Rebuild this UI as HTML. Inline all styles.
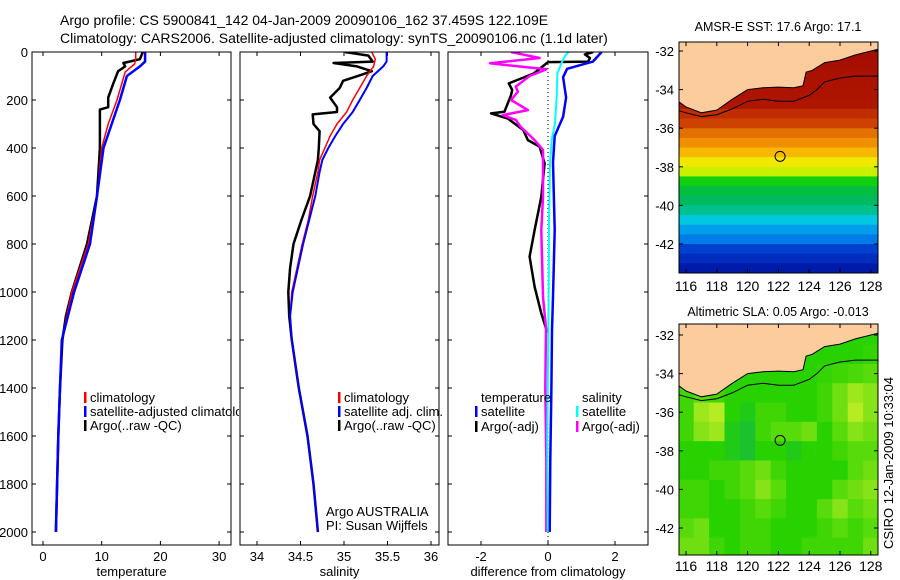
<!DOCTYPE html>
<html><head><meta charset="utf-8"><style>
html,body{margin:0;padding:0;background:#fff}
svg{display:block}
text{font-family:"Liberation Sans",sans-serif;fill:#000}
</style></head><body>
<svg id="fig" width="900" height="580" viewBox="0 0 900 580" xmlns="http://www.w3.org/2000/svg">
<text x="60" y="25" font-size="14">Argo profile: CS 5900841_142 04-Jan-2009 20090106_162 37.459S 122.109E</text>
<text x="60" y="43" font-size="14">Climatology: CARS2006. Satellite-adjusted climatology: synTS_20090106.nc (1.1d later)</text>
<g id="g"></g>
</svg>
<script>
// ---------- data ----------
const depthTicks=[0,200,400,600,800,1000,1200,1400,1600,1800,2000];
const tempTicks=[0,10,20,30];
const salTicks=[34,34.5,35,35.5,36];
const diffTicks=[-2,0,2];
const latTicks=[-32,-34,-36,-38,-40,-42];
const lonTicks=[116,118,120,122,124,126,128];

const tClimDepth=[0,30,50,83,200,300,400,600,800,1000,1200,1400,1600,1800,2000];
const tClimVal=[15.8,15.8,15.6,14,12.6,11.1,10,9.2,7.7,4.9,3.2,2.9,2.6,2.4,2.2];
const tSatDepth=[0,40,60,100,200,300,400,600,800,1000,1200,1400,1600,1800,2000];
const tSatVal=[17.4,17.4,16.5,14.3,13.1,11.7,10.3,9.2,8,5.3,3.2,2.9,2.6,2.4,2.2];
const tArgoDepth=[0,30,46,60,80,130,190,230,240,300,400,600,800,1000,1100,1200,1400,1600,1800,2000];
const tArgoVal=[17,16.5,13.7,14,12.8,12,11.1,11.1,9.7,9.7,9.7,9.2,7.5,4.9,3.9,3.3,2.9,2.6,2.4,2.2];

const sClimDepth=[0,30,60,100,150,200,250,300,350,400,450,500,600,700,800,900,1000,1100,1200,1400,1600,1800,2000];
const sClimVal=[35.32,35.36,35.34,35.26,35.18,35.1,35.03,34.92,34.84,34.78,34.72,34.7,34.64,34.59,34.52,34.46,34.4,34.38,34.4,34.48,34.58,34.65,34.7];
const sSatDepth=[0,40,60,100,150,200,250,300,350,400,450,500,600,800,1000,1100,1200,1400,1600,1800,2000];
const sSatVal=[35.49,35.49,35.45,35.33,35.26,35.18,35.1,34.99,34.9,34.82,34.75,34.72,34.67,34.53,34.41,34.38,34.4,34.48,34.58,34.65,34.7];
const sArgoDepth=[0,15,40,46,60,80,95,120,150,190,230,250,260,300,330,400,450,600,700,800,900,1000,1100,1200,1400,1600,1800,2000];
const sArgoVal=[35.01,35.28,35.33,34.88,35.15,35.32,35.2,34.99,34.95,34.84,34.92,34.92,34.64,34.65,34.72,34.71,34.7,34.61,34.51,34.42,34.38,34.36,34.37,34.4,34.48,34.58,34.65,34.7];

const dTSatDepth=[0,40,70,105,190,270,350,460,740,1020,1160,1400,1700,2000];
const dTSatVal=[1.6,1.34,0.57,0.45,0.54,0.45,0.2,0.15,0.2,0.15,0.12,0.1,0.07,0.05];
const dTArgoDepth=[0,10,25,40,42,89,131,158,179,249,256,277,325,367,394,464,603,742,853,978,1089,1151,1170];
const dTArgoVal=[1.35,1.1,1.25,1.2,0,-0.42,-1.17,-1.07,-1.1,-1.3,-1.7,-1.2,-0.74,-0.6,-0.25,-0.1,-0.2,-0.4,-0.55,-0.4,-0.2,-0.06,0];
const dSSatDepth=[0,18,47,89,186,297,367,464,700,1000,1300,1600,2000];
const dSSatVal=[0.61,0.5,0.4,0.28,0.26,0.21,0.11,0.06,0.03,0.02,0.0,-0.02,-0.01];
const dSArgoDepth=[0,25,47,72,100,144,165,200,242,263,283,311,367,408,603,742,1019,1151,1400,1700,2000];
const dSArgoVal=[-1.1,-0.25,-1.73,-0.05,-0.55,-0.96,-0.9,-1.1,-0.6,-1.35,-0.96,-0.82,-0.4,-0.15,-0.15,-0.2,-0.15,-0.06,-0.08,-0.05,-0.05];

// SST per 0.5 deg lat row from -31.5 southward
const sstRows=[20.3,20.2,20.1,20.0,19.9,19.8,19.7,19.2,18.9,18.4,18.0,17.5,17.0,16.5,16.0,15.7,15.5,15.2,14.8,14.5,14.3,14.0,13.8,13.6,13.5];
// SLA (normalized 0 green -> 1 yellow) per 1 deg lat row x 1 deg lon col
const slaGrid=[
[0.3,0.3,0.3,0.3,0.3,0.3,0.3,0.3,0.3,0.3,0.3,0.3,0.3],
[0.3,0.3,0.3,0.3,0.3,0.3,0.3,0.3,0.3,0.3,0.3,0.3,0.35],
[0.35,0.35,0.35,0.3,0.3,0.3,0.3,0.3,0.3,0.35,0.4,0.45,0.5],
[0.4,0.5,0.4,0.3,0.3,0.3,0.3,0.3,0.3,0.4,0.6,0.8,0.7],
[0.4,0.8,0.9,0.3,0.2,0.4,0.4,0.3,0.3,0.4,0.6,0.9,0.7],
[0.4,0.7,0.8,0.2,0.1,0.4,0.5,0.5,0.6,0.3,0.5,0.7,0.6],
[0.3,0.3,0.3,0.2,0.1,0.3,0.3,0.2,0.3,0.3,0.4,0.5,0.5],
[0.3,0.3,0.4,0.4,0.5,0.6,0.4,0.3,0.3,0.3,0.3,0.5,0.6],
[0.4,0.4,0.3,0.4,0.5,0.7,0.5,0.3,0.3,0.3,0.5,0.6,0.7],
[0.4,0.4,0.3,0.3,0.4,0.5,0.4,0.3,0.3,0.5,0.7,0.5,0.6],
[0.5,0.6,0.3,0.3,0.4,0.4,0.3,0.3,0.3,0.4,0.5,0.4,0.5],
[0.6,0.6,0.4,0.3,0.4,0.4,0.3,0.3,0.4,0.4,0.4,0.4,0.6]];
const coastLon=[116.0,117,118,119,120,121,122,123,123.6,123.8,124.2,125,126,127,128.5];
const coastLat=[-34.9,-35.2,-35.06,-34.5,-34.0,-33.9,-33.87,-33.9,-33.8,-33.1,-33.0,-32.6,-32.47,-32.2,-31.9];
const isoLon=[115.55,116,117,118,119,120,121,122,123,124,124.5,125,126,127,128.5];
const isoLat=[-35.1,-35.2,-35.4,-35.3,-35.0,-34.6,-34.5,-34.6,-34.6,-34.3,-34.0,-33.6,-33.4,-33.3,-33.3];
const argoLon=122.109, argoLat=-37.459;

// ---------- helpers ----------
const NS='http://www.w3.org/2000/svg';
const G=document.getElementById('g');
function mk(tag,attrs,parent){const e=document.createElementNS(NS,tag);for(const k in attrs)e.setAttribute(k,attrs[k]);(parent||G).appendChild(e);return e;}
const yD=d=>52+0.24*d;
const panels=[
 {x0:32,x1:231,fx:v=>43+5.87*v,ticks:tempTicks,title:'temperature',name:'temperature-panel'},
 {x0:240,x1:439,fx:v=>257+87*(v-34),ticks:salTicks,title:'salinity',name:'salinity-panel'},
 {x0:448,x1:648,fx:v=>548+33.5*v,ticks:diffTicks,title:'difference from climatology',name:'difference-panel'}];
const Y1=545;
mk('clipPath',{id:'legclip'}).appendChild(document.createElementNS(NS,'rect'));
document.querySelector('#legclip rect').setAttribute('x',32);
document.querySelector('#legclip rect').setAttribute('y',52);
document.querySelector('#legclip rect').setAttribute('width',207);
document.querySelector('#legclip rect').setAttribute('height',493);

panels.forEach((p,i)=>{
  const g=mk('g',{});
  
  
  const cp=mk('clipPath',{id:'cp'+i},g);
  mk('rect',{x:p.x0,y:52,width:p.x1-p.x0,height:Y1-52},cp);
  p.g=g;
  p.ticks.forEach(t=>{
    const x=p.fx(t);
    mk('line',{x1:x,x2:x,y1:52,y2:56,stroke:'#000'},g);
    mk('line',{x1:x,x2:x,y1:Y1,y2:Y1-4,stroke:'#000'},g);
    const tl=mk('text',{x:x,y:561,'font-size':13,'text-anchor':'middle'},g);
    tl.textContent=String(t);
    
    
  });
  depthTicks.forEach(d=>{
    const y=yD(d);
    mk('line',{x1:p.x0,x2:p.x0+4,y1:y,y2:y,stroke:'#000'},g);
    mk('line',{x1:p.x1,x2:p.x1-4,y1:y,y2:y,stroke:'#000'},g);
    if(i===0){const tl=mk('text',{x:28,y:y+5,'font-size':13,'text-anchor':'end'},g);tl.textContent=String(d);
      
      }
  });
  const at=mk('text',{x:(p.x0+p.x1)/2,y:576,'font-size':13,'text-anchor':'middle'},g);
  at.textContent=p.title;
  
  
});

function series(p,i,depths,vals,color,w,name){
  const pts=depths.map((d,k)=>p.fx(vals[k]).toFixed(1)+','+yD(d).toFixed(1)).join(' ');
  const e=mk('polyline',{points:pts,fill:'none',stroke:color,'stroke-width':w,'stroke-linejoin':'round','clip-path':'url(#cp'+i+')'},p.g);
  
  
}
mk('line',{x1:panels[2].fx(0),x2:panels[2].fx(0),y1:52,y2:Y1,stroke:'#000','stroke-dasharray':'1,3'},panels[2].g);

series(panels[0],0,tArgoDepth,tArgoVal,'#000',2.5,'temperature-argo-line');
series(panels[0],0,tClimDepth,tClimVal,'#f00',1.5,'temperature-climatology-line');
series(panels[0],0,tSatDepth,tSatVal,'#00f',2.5,'temperature-satellite-line');
series(panels[1],1,sArgoDepth,sArgoVal,'#000',2.5,'salinity-argo-line');
series(panels[1],1,sClimDepth,sClimVal,'#f00',1.5,'salinity-climatology-line');
series(panels[1],1,sSatDepth,sSatVal,'#00f',2,'salinity-satellite-line');
series(panels[2],2,dTArgoDepth,dTArgoVal,'#000',2.5,'temp-diff-argo-line');
series(panels[2],2,dSArgoDepth,dSArgoVal,'#f0f',2.5,'sal-diff-argo-line');
series(panels[2],2,dTSatDepth,dTSatVal,'#00f',2.5,'temp-diff-satellite-line');
series(panels[2],2,dSSatDepth,dSSatVal,'#0ff',2,'sal-diff-satellite-line');

panels.forEach((p,i)=>{
  const f=mk('rect',{x:p.x0,y:52,width:p.x1-p.x0,height:Y1-52,fill:'none',stroke:'#000'},p.g);
  
  
});

function legend(parent,x,y,color,label,clip){
  const g=mk('g',clip?{'clip-path':clip}:{},parent);
  
  
  if(color)mk('rect',{x:x-6,y:y-10,width:2.5,height:11,fill:color},g);
  const t=mk('text',{x:x,y:y,'font-size':13},g);t.textContent=label;
}
legend(panels[0].g,90,402,'#f00','climatology');
legend(panels[0].g,90,416,'#00f','satellite-adjusted climatology','url(#legclip)');
legend(panels[0].g,90,430,'#000','Argo(..raw -QC)');
legend(panels[1].g,344,402,'#f00','climatology');
legend(panels[1].g,344,416,'#00f','satellite adj. clim.');
legend(panels[1].g,344,430,'#000','Argo(..raw -QC)');
legend(panels[1].g,326,516,null,'Argo AUSTRALIA');
legend(panels[1].g,326,530,null,'PI: Susan Wijffels');
legend(panels[2].g,481,402,null,'temperature');
legend(panels[2].g,481,416,'#00f','satellite');
legend(panels[2].g,481,431,'#000','Argo(-adj)');
legend(panels[2].g,582,402,null,'salinity');
legend(panels[2].g,582,416,'#0ff','satellite');
legend(panels[2].g,582,431,'#f0f','Argo(-adj)');

// ---------- maps ----------
const cmV=[13.5,14.0,14.4,14.8,15.2,15.6,16.0,16.5,17.0,17.5,18.0,18.5,19.0,19.6,20.5];
const cmC=[[0,16,160],[0,64,208],[0,144,240],[0,200,224],[0,192,144],[0,184,80],[16,208,16],[200,240,0],[240,232,0],[248,184,0],[240,144,0],[224,104,0],[200,56,0],[176,24,0],[160,8,0]];
function sstCol(v){
  if(v<=cmV[0])return `rgb(${cmC[0]})`;
  for(let k=1;k<cmV.length;k++){if(v<=cmV[k]){const t=(v-cmV[k-1])/(cmV[k]-cmV[k-1]);
    return `rgb(${cmC[k].map((c,j)=>Math.round(cmC[k-1][j]+(c-cmC[k-1][j])*t)).join(',')})`;}}
  return `rgb(${cmC[cmC.length-1]})`;
}
function slaCol(v){
  const a=[20,185,70],b=[40,210,0],c=[205,240,40];
  let r,t;
  if(v<0.3){t=v/0.3;r=a.map((x,k)=>x+(b[k]-x)*t);}else{t=(v-0.3)/0.7;r=b.map((x,k)=>x+(c[k]-x)*t);}
  return `rgb(${r.map(Math.round).join(',')})`;
}
const maps=[
 {x0:679,x1:878,y0:42,y1:273,yLat:-32,yPx:51,title:'AMSR-E SST: 17.6 Argo: 17.1',name:'sst-map',ty:31,ly:291,cid:'mc0'},
 {x0:679,x1:878,y0:324,y1:555,yLat:-32,yPx:335,title:'Altimetric SLA: 0.05 Argo: -0.013',name:'sla-map',ty:316,ly:571,cid:'mc1'}];
maps.forEach((m,mi)=>{
  const g=mk('g',{});
  
  
  const fx=lon=>686+15.4*(lon-116);
  const fy=lat=>m.yPx+19.3*(m.yLat-lat);
  const cp=mk('clipPath',{id:m.cid},g);
  mk('rect',{x:m.x0,y:m.y0,width:m.x1-m.x0,height:m.y1-m.y0},cp);
  const cells=mk('g',{'clip-path':'url(#'+m.cid+')'},g);
  if(mi===0){
    sstRows.forEach((v,r)=>{
      const lat=-31.5-0.5*r;
      const cell=mk('rect',{x:m.x0,y:fy(lat),width:m.x1-m.x0,height:19.3*0.5+0.5,fill:sstCol(v)},cells);
      
      
    });
  } else {
    slaGrid.forEach((row,r)=>row.forEach((v,c)=>{
      const cell=mk('rect',{x:fx(115.5+c),y:fy(-31.5-r),width:15.9,height:19.8,fill:slaCol(v)},cells);
      
      
    }));
  }
  let pts=[[115.4,-31.4],[115.4,-34.55]].concat(coastLon.map((l,k)=>[l,coastLat[k]])).concat([[128.6,-31.4]]);
  const land=mk('polygon',{points:pts.map(p=>fx(p[0]).toFixed(1)+','+fy(p[1]).toFixed(1)).join(' '),fill:'#fccc9c',stroke:'#000','stroke-width':1},cells);
  
  
  const iso=mk('polyline',{points:isoLon.map((l,k)=>fx(l).toFixed(1)+','+fy(isoLat[k]).toFixed(1)).join(' '),fill:'none',stroke:'#000','stroke-width':1},cells);
  
  
  const pos=mk('circle',{cx:fx(argoLon),cy:fy(argoLat),r:5,fill:'none',stroke:'#000','stroke-width':1},g);
  
  
  mk('rect',{x:m.x0,y:m.y0,width:m.x1-m.x0,height:m.y1-m.y0,fill:'none',stroke:'#000'},g);
  latTicks.forEach(l=>{const y=fy(l);
    mk('line',{x1:m.x0,x2:m.x0+4,y1:y,y2:y,stroke:'#000'},g);
    mk('line',{x1:m.x1,x2:m.x1-4,y1:y,y2:y,stroke:'#000'},g);
    const t=mk('text',{x:674,y:y+5,'font-size':13,'text-anchor':'end'},g);t.textContent=String(l);
    
    });
  lonTicks.forEach(l=>{const x=fx(l);
    mk('line',{x1:x,x2:x,y1:m.y0,y2:m.y0+4,stroke:'#000'},g);
    mk('line',{x1:x,x2:x,y1:m.y1,y2:m.y1-4,stroke:'#000'},g);
    const t=mk('text',{x:x,y:m.ly,'font-size':14,'text-anchor':'middle'},g);t.textContent=String(l);
    
    });
  const tt=mk('text',{x:778,y:m.ty,'font-size':12.5,'text-anchor':'middle'},g);tt.textContent=m.title;
  
  
});
const stamp=mk('text',{x:0,y:0,'font-size':13,'text-anchor':'middle',transform:'translate(893,463) rotate(-90)'});
stamp.textContent='CSIRO 12-Jan-2009 10:33:04';


</script>
</body></html>
